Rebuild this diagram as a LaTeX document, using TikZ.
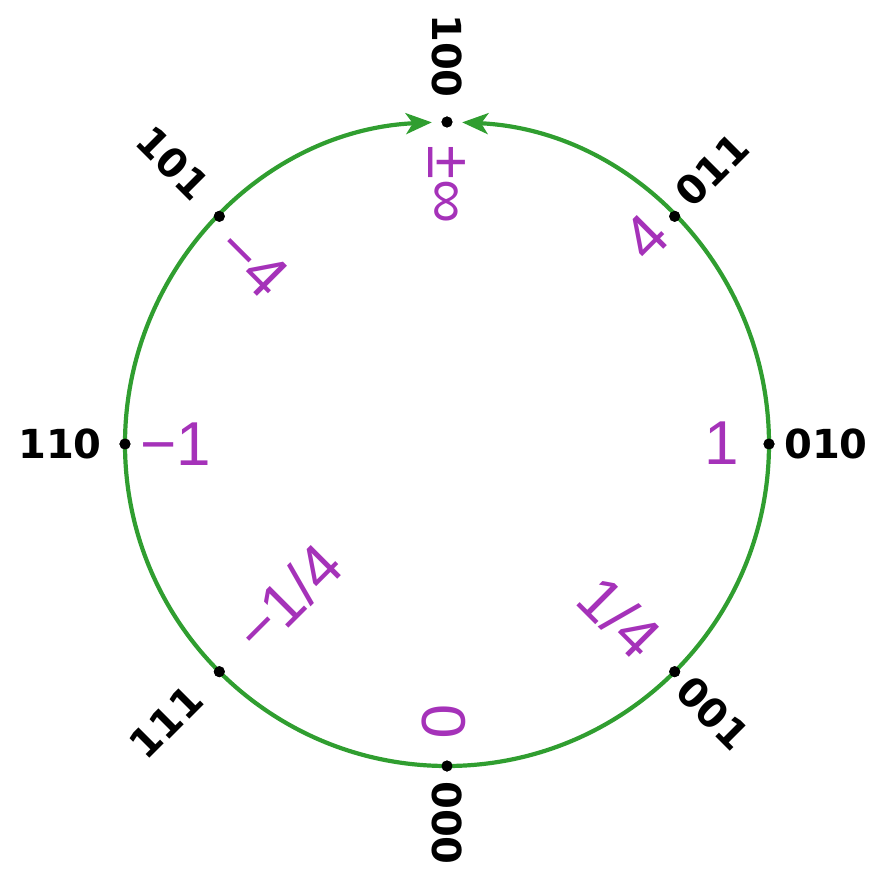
\documentclass[tikz,border=0pt]{standalone}
\usepackage{fontspec}
\setmainfont{Liberation Sans}
\newfontfamily\binfont{DejaVu Sans}[BoldFont={DejaVu Sans Bold}]
\usetikzlibrary{arrows.meta}
\definecolor{ringgreen}{RGB}{48,158,48}
\definecolor{valpurple}{RGB}{165,50,185}
\tikzset{
  ring/.style={draw=ringgreen, line width=4.2pt},
  ringtip/.style={-{Stealth[length=26pt,width=21pt,inset=7pt]}},
  dotnode/.style={circle, fill=black, inner sep=0pt, minimum size=11pt},
  binlabel/.style={inner sep=0pt, font=\binfont\bfseries\fontsize{40}{40}\selectfont, text=black},
  vallabel/.style={inner sep=0pt, font=\fontsize{62}{62}\selectfont, text=valpurple},
}
\begin{document}
\begin{tikzpicture}[x=1pt,y=1pt]
\useasboundingbox (-447,-431) rectangle (429,444);
\coordinate (c) at (0,0);
% dots
\node[dotnode] (d100) at (90:322) {};
\node[dotnode] (d011) at (45:322) {};
\node[dotnode] (d010) at (0:322) {};
\node[dotnode] (d001) at (-45:322) {};
\node[dotnode] (d000) at (-90:322) {};
\node[dotnode] (d111) at (-135:322) {};
\node[dotnode] (d110) at (180:322) {};
\node[dotnode] (d101) at (135:322) {};
% ring: two arcs meeting at the top with arrow tips
\draw[ring, ringtip] (d000.center) arc[start angle=-90, end angle=87.3, radius=322];
\draw[ring, ringtip] (d000.center) arc[start angle=270, end angle=92.7, radius=322];
% redraw dots above the ring
\foreach \d in {d100,d011,d010,d001,d000,d111,d110,d101}
  \fill[black] (\d.center) circle[radius=5.5pt];
% binary labels
\node[binlabel, rotate=-90] (b100) at (0,388) {100};
\node[binlabel, rotate=-45] (b101) at (-274,281) {101};
\node[binlabel, rotate=45]  (b011) at (265,274) {011};
\node[binlabel]             (b110) at (-387,0) {110};
\node[binlabel]             (b010) at (379,0) {010};
\node[binlabel, rotate=-45] (b001) at (266,-269) {001};
\node[binlabel, rotate=45]  (b111) at (-281,-278) {111};
\node[binlabel, rotate=-90] (b000) at (0,-379) {000};
% value labels
\node[vallabel, rotate=-90] (vinf) at (0,259) {±∞};
\node[vallabel, rotate=-45] (vm4) at (-194,182) {−4};
\node[vallabel, rotate=45]  (vp4) at (199,207) {4};
\node[vallabel]             (vp1) at (275,1) {1};
\node[vallabel]             (vm1) at (-271,0) {−1};
\node[vallabel, rotate=-45] (vq) at (173,-173) {1/4};
\node[vallabel, rotate=45]  (vmq) at (-159,-154) {−1/4};
\node[vallabel, rotate=-90] (vz) at (-3,-278) {0};
\end{tikzpicture}
\end{document}
